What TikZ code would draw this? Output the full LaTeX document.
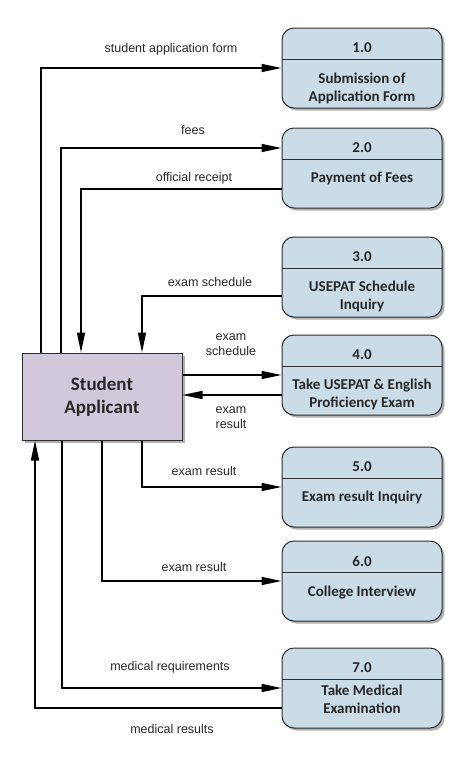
\documentclass[tikz,border=0pt]{standalone}
\usepackage{fontspec}
\setmainfont{Liberation Sans}
\newfontfamily\boxfont{Carlito}
\usetikzlibrary{arrows.meta,shadows}
\definecolor{procblue}{RGB}{201,220,231}
\definecolor{entitylilac}{RGB}{209,200,219}
\definecolor{edgegray}{RGB}{45,45,45}
\tikzset{
  boxshadow/.style={drop shadow={shadow xshift=2.5pt,shadow yshift=-2.5pt,opacity=0.3,fill=black}},
  proc/.style={draw=edgegray,line width=1pt,rounded corners=12pt,fill=procblue,
    minimum width=160pt,minimum height=80pt,boxshadow},
  entity/.style={draw=edgegray,line width=1pt,fill=entitylilac,minimum width=160pt,
    minimum height=87pt,boxshadow,align=center,text=black!85,
    font=\boxfont\fontsize{19}{23}\selectfont\bfseries},
  num/.style={inner sep=0pt,text=black!85,font=\boxfont\fontsize{15}{18}\selectfont\bfseries},
  title/.style={inner sep=0pt,align=center,text=black!85,font=\boxfont\fontsize{15}{18}\selectfont\bfseries},
  flow/.style={draw,line width=1.5pt,-{Triangle[length=20pt,width=8pt]}},
  lbl/.style={inner sep=0pt,align=center,text=black!85,font=\fontsize{12.5}{15}\selectfont}
}
\begin{document}
\begin{tikzpicture}[x=1pt,y=-1pt]
        \useasboundingbox (0,0) rectangle (466,761);
        \def \Procs{ 1/28/60/Submission of\\Application Form, 2/128/50/Payment of Fees,
          3/237/59/USEPAT Schedule\\Inquiry, 4/335/59/Take USEPAT \& English\\Proficiency Exam,
          5/447/50/Exam result Inquiry, 6/541/51/College Interview, 7/648/51/Take Medical\\Examination}
        \def \Labels{ l1/171/49/student application form, l2/193/130/fees, l3/194/178/official receipt,
          l4/210/282/exam schedule, l5/231/345/exam\\schedule, l6/231/418/exam\\result,
          l7/204/471/exam result, l8/194/567/exam result, l9/170/667/medical requirements,
          l10/172/729/medical results}
        \foreach \id / \ty / \oy / \txt in \Procs{
            \node[proc] (p\id) at (362,\ty+40) {};
            \draw[edgegray,line width=1pt] ([yshift=-32pt]p\id.north west) -- ([yshift=-32pt]p\id.north east);
            \node[num] (n\id) at (362,\ty+20) {\id.0};
            \node[title] (t\id) at (362,\ty+\oy) {\txt};
        }
        \node[entity] (sa) at (102,396.5) {Student\\Applicant};
        \foreach \id / \x / \y / \txt in \Labels{
            \node[lbl] (\id) at (\x,\y) {\txt};
        }
        % flows to and from the student
        \path[flow] ([xshift=-61pt]sa.north) |- (p1.west);
        \path[flow] ([xshift=-41pt]sa.north) |- ([yshift=20pt]p2.west);
        \path[flow] ([yshift=-21pt]p2.west) -| ([xshift=-21pt]sa.north);
        \path[flow] ([yshift=-19pt]p3.west) -| ([xshift=40pt]sa.north);
        \path[flow] (sa.east |- p4.west) -- (p4.west);
        \path[flow] ([yshift=-20pt]p4.west) -- ([yshift=-20pt]p4.west -| sa.east);
        \path[flow] ([xshift=40pt]sa.south) |- (p5.west);
        \path[flow] (sa.south) |- (p6.west);
        \path[flow] ([xshift=-40pt]sa.south) |- (p7.west);
        \path[flow] ([yshift=-20pt]p7.west) -| ([xshift=-67pt]sa.south);
    \end{tikzpicture}
\end{document}
